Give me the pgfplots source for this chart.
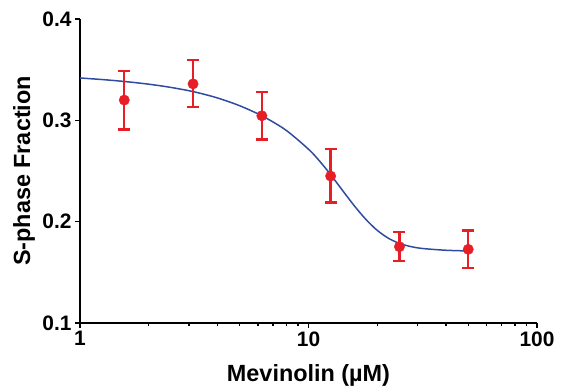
\documentclass[border=0pt]{standalone}
\usepackage{pgfplots}
\pgfplotsset{compat=1.18}
\usepackage{fontspec}
\setmainfont{Liberation Sans}
\definecolor{curveblue}{RGB}{48,76,160}
\definecolor{ptred}{RGB}{232,30,38}
\begin{document}
\begin{tikzpicture}
\begin{axis}[
  at={(0,0)}, anchor=south west,
  scale only axis, width=457bp, height=304bp,
  xmode=log, xmin=1, xmax=100, ymin=0.1, ymax=0.4,
  axis lines*=left,
  axis line style={line width=1.4bp, black},
  tick style={line width=1.4bp, black},
  tick align=outside,
  major tick length=5bp, minor tick length=3bp,
  xtick={1,10,100}, xticklabels={1,10,100},
  ytick={0.1,0.2,0.3,0.4}, yticklabels={0.1,0.2,0.3,0.4},
  minor y tick num=0,
  ticklabel style={font=\bfseries\fontsize{21}{21}\selectfont},
  xlabel={Mevinolin (µM)}, ylabel={S-phase Fraction},
  label style={font=\bfseries\fontsize{23.5}{23.5}\selectfont},
  xlabel style={at={(axis description cs:0.5,0)}, anchor=center, yshift=-52bp},
  ylabel style={at={(axis description cs:0,0.5)}, anchor=center, yshift=56bp},
  clip=false,
]
\addplot[curveblue, line width=1.5bp, smooth] coordinates {
 (1,0.3418) (1.2589,0.3402) (1.5849,0.3382) (1.9953,0.3357) (2.5119,0.3324)
 (3.1623,0.3281) (3.9811,0.3222) (5.0119,0.3143) (6.3096,0.3040) (7.9433,0.2905)
 (10,0.2715) (11.220,0.2594) (12.589,0.2455) (14.125,0.2305) (15.849,0.2158)
 (17.783,0.2025) (19.953,0.1916) (22.387,0.1836) (25.119,0.1784) (28.184,0.1753)
 (31.623,0.1735) (39.811,0.1718) (50,0.1711)
};
\addplot[ptred, only marks, mark=*, mark size=5.2bp,
  mark options={fill=ptred, draw=ptred},
  error bars/.cd, y dir=both, y explicit,
  error bar style={line width=2.3bp, ptred},
  error mark options={rotate=90, mark size=6bp, line width=2.3bp, ptred}]
 table[x=x, y=y, y error plus=ep, y error minus=em] {
x y ep em
1.5625 0.320 0.029 0.029
3.125 0.336 0.0235 0.023
6.25 0.3045 0.0235 0.0233
12.5 0.245 0.027 0.026
25 0.1753 0.0147 0.0143
50 0.1727 0.0187 0.0187
};
\end{axis}
\pgfresetboundingbox
\useasboundingbox (-80bp,-64bp) rectangle (482bp,323bp);
\end{tikzpicture}
\end{document}
